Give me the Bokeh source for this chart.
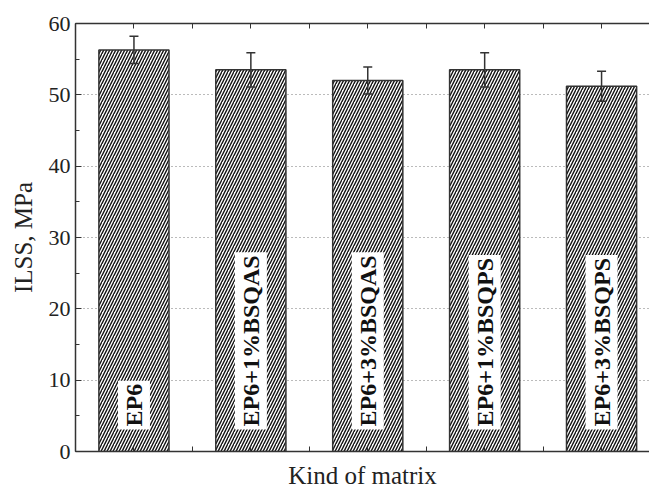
from bokeh.plotting import figure
from bokeh.models import (ColumnDataSource, Range1d, SingleIntervalTicker, FixedTicker,
                          LinearAxis, Whisker, TeeHead)
from bokeh.core.properties import value
from bokeh.embed import file_html
from bokeh.resources import INLINE

# data
positions = [1, 2, 3, 4, 5]
labels = ["EP6", "EP6+1%BSQAS", "EP6+3%BSQAS", "EP6+1%BSQPS", "EP6+3%BSQPS"]
ilss = [56.3, 53.5, 52.0, 53.5, 51.2]
err = [1.9, 2.4, 1.9, 2.4, 2.1]
x_ticks = [0.5, 1, 1.5, 2, 2.5, 3, 3.5, 4, 4.5, 5, 5.5]

FONT = "Liberation Serif"
TXT = "#222222"

src = ColumnDataSource(dict(
    x=positions, top=ilss, label=labels,
    upper=[v + e for v, e in zip(ilss, err)],
    lower=[v - e for v, e in zip(ilss, err)],
    ly=[3.1] * len(positions),
))

p = figure(width=649, height=491, output_backend="svg", toolbar_location=None,
           x_range=Range1d(0.5, 5.41), y_range=Range1d(0, 60),
           min_border_left=75, min_border_right=0, min_border_top=23, min_border_bottom=39)
p.outline_line_color = None
p.background_fill_color = "white"

# y axis
ya = p.yaxis[0]
ya.ticker = SingleIntervalTicker(interval=10, num_minor_ticks=2)
ya.major_tick_in = 6
ya.major_tick_out = 0
ya.minor_tick_in = 4
ya.minor_tick_out = 0
ya.axis_line_width = 1.5
ya.axis_line_color = "#333333"
ya.major_tick_line_color = "#333333"
ya.minor_tick_line_color = "#333333"
ya.major_label_text_font = FONT
ya.major_label_text_font_size = "22px"
ya.major_label_text_color = TXT
ya.major_label_standoff = 5
ya.axis_label = "ILSS, MPa"
ya.axis_label_text_font = FONT
ya.axis_label_text_font_size = "25px"
ya.axis_label_text_font_style = "normal"
ya.axis_label_text_color = TXT
ya.axis_label_standoff = 9

# x axis (bottom)
xa = p.xaxis[0]
xa.ticker = FixedTicker(ticks=x_ticks)
xa.major_tick_in = 5
xa.major_tick_out = 0
xa.minor_tick_line_color = None
xa.axis_line_width = 1.5
xa.axis_line_color = "#333333"
xa.major_tick_line_color = "#333333"
xa.major_label_text_font_size = "0px"
xa.major_label_standoff = 0
xa.major_label_overrides = {t: "" for t in x_ticks}
xa.axis_label = "Kind of matrix"
xa.axis_label_text_font = FONT
xa.axis_label_text_font_size = "25px"
xa.axis_label_text_font_style = "normal"
xa.axis_label_text_color = TXT
xa.axis_label_standoff = 10

# top axis
ta = LinearAxis(ticker=FixedTicker(ticks=x_ticks), major_tick_in=5, major_tick_out=0,
                minor_tick_line_color=None, axis_line_width=1.5, axis_line_color="#333333",
                major_tick_line_color="#333333", major_label_text_font_size="0px",
                major_label_standoff=0,
                major_label_overrides={t: "" for t in x_ticks})
p.add_layout(ta, "above")

p.xgrid.visible = False
p.ygrid.ticker = SingleIntervalTicker(interval=10)
p.ygrid.grid_line_color = "#777777"
p.ygrid.grid_line_dash = "1 3"
p.ygrid.grid_line_width = 1

# bars
p.vbar(x="x", top="top", bottom=0, width=0.6, source=src,
       fill_color="white", line_color="#333333", line_width=1.5,
       hatch_pattern="/", hatch_color="#111111", hatch_scale=6, hatch_weight=1.4)

# error bars
w = Whisker(base="x", upper="upper", lower="lower", source=src,
            line_color="#333333", line_width=1.5, level="overlay",
            upper_head=TeeHead(size=9, line_color="#333333", line_width=1.5),
            lower_head=TeeHead(size=9, line_color="#333333", line_width=1.5))
p.add_layout(w)

# bar labels
p.text(x="x", y="ly", text="label", source=src, angle=90, angle_units="deg",
       text_font=value(FONT), text_font_style="bold", text_font_size="24px",
       text_color="#111111", text_align="left", text_baseline="middle",
       background_fill_color="white", padding=3)

open("out.html", "w").write(file_html(p, INLINE))
